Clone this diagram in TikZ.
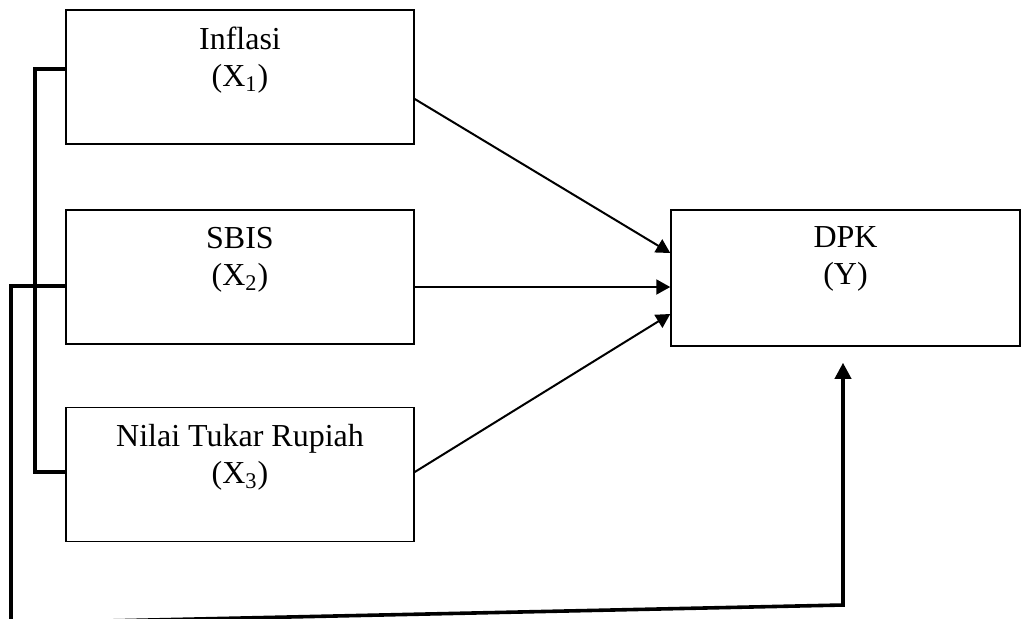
\documentclass[tikz,border=0pt]{standalone}
\usepackage{fontspec}
\setmainfont{Liberation Serif}
\usepackage{tikz}
\usetikzlibrary{arrows.meta}
\usetikzlibrary{positioning}

\begin{document}
\begin{tikzpicture}[x=0.5pt,y=-0.5pt,
                varbox/.style={rectangle, draw, line width=0.75pt, minimum width=174pt, minimum height=67pt, inner sep=0pt},
                caption/.style={anchor=north, inner sep=0pt, yshift=-8.6pt, align=center, font=\fontsize{16}{18.5}\selectfont},
                arrow/.style={draw, line width=1pt, -{Triangle[length=7pt,width=7.5pt]}},
                bracket/.style={draw, line width=1.8pt}
            ]
            \useasboundingbox (0,0) rectangle (1022,618);
            \node[varbox, label={[caption]north:Inflasi\\(X\textsubscript{1})}](x1) at (240,77){};
            \node[varbox, label={[caption]north:SBIS\\(X\textsubscript{2})}](x2) at (240,277){};
            \node[varbox, label={[caption]north:Nilai Tukar Rupiah\\(X\textsubscript{3})}](x3) at (240,474.5){};
            \node[varbox, minimum width=174.5pt, minimum height=68pt, label={[caption]north:DPK\\(Y)}](dpk) at (845.5,278){};
            \path[arrow] ([yshift=-11pt]x1.east) -- ([yshift=12.5pt]dpk.west);
            \path[arrow] ([yshift=-5pt]x2.east) -- ([yshift=-5pt]x2.east -| dpk.west);
            \path[arrow] ([yshift=1.25pt]x3.east) -- ([yshift=-18pt]dpk.west);
            % left brackets
            \path[bracket] ([yshift=4pt]x1.west) -| (35,472) -- ([yshift=1.25pt]x3.west);
            \path[bracket] ([yshift=-4.5pt]x2.west) -| (11,630);
            \path[bracket, -{Triangle[length=8pt,width=8pt]}, shorten >=8pt] (11,623) -- (843,605) -- (dpk.south -| 843,0);
        \end{tikzpicture}
\end{document}
